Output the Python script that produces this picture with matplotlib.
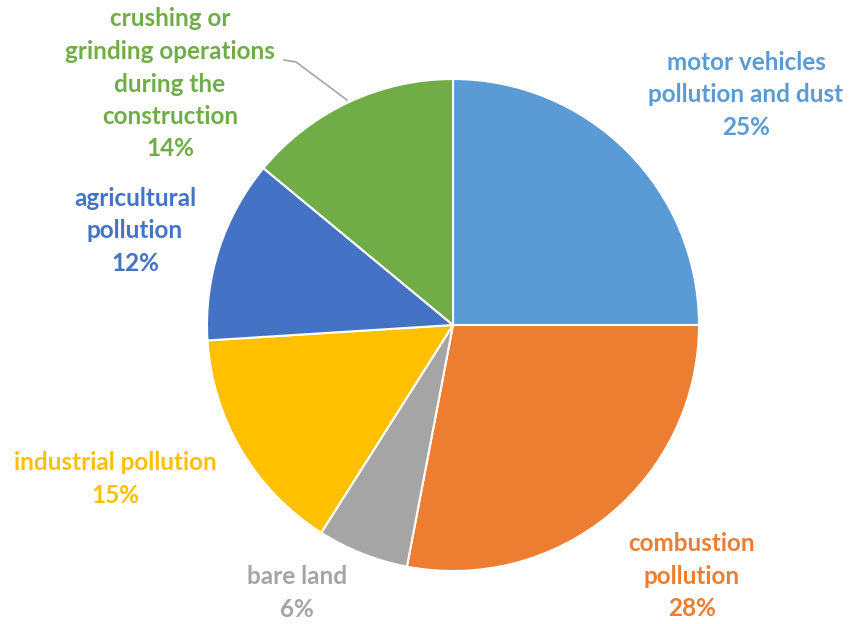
import matplotlib
matplotlib.use("Agg")
import matplotlib.pyplot as plt

categories = [
    "motor vehicles\npollution and dust",
    "combustion\npollution",
    "bare land",
    "industrial pollution",
    "agricultural\npollution",
    "crushing or\ngrinding operations\nduring the\nconstruction",
]
shares = [25, 28, 6, 15, 12, 14]
colors = ["#5B9BD5", "#ED7D31", "#A5A5A5", "#FFC000", "#4472C4", "#70AD47"]

# label anchor points (figure pixels, from top-left)
label_pos = [(746, 95), (692, 576), (297, 593), (115, 479), (135, 231), (170, 84)]

W, H = 851, 624
fig = plt.figure(figsize=(W / 100, H / 100), dpi=100)
ax = fig.add_axes([0, 0, 1, 1])

cx, cy, r = 453, H - 325, 246
ax.pie(shares, colors=colors, startangle=90, counterclock=False,
       center=(cx, cy), radius=r, frame=True,
       wedgeprops=dict(edgecolor="white", linewidth=1.5))
ax.set_xlim(0, W)
ax.set_ylim(0, H)
ax.set_aspect("equal")
ax.axis("off")

for cat, val, col, (px, py) in zip(categories, shares, colors, label_pos):
    ax.text(px, H - py, f"{cat}\n{val}%", color=col, ha="center", va="center",
            fontsize=17.5, fontweight="bold", family="Lato", linespacing=1.5)

# leader line for the construction slice
ax.plot([284, 296, 347], [H - 60, H - 62, H - 100], color="#A5A5A5", lw=1.2)

fig.savefig("out.png", dpi=100)
